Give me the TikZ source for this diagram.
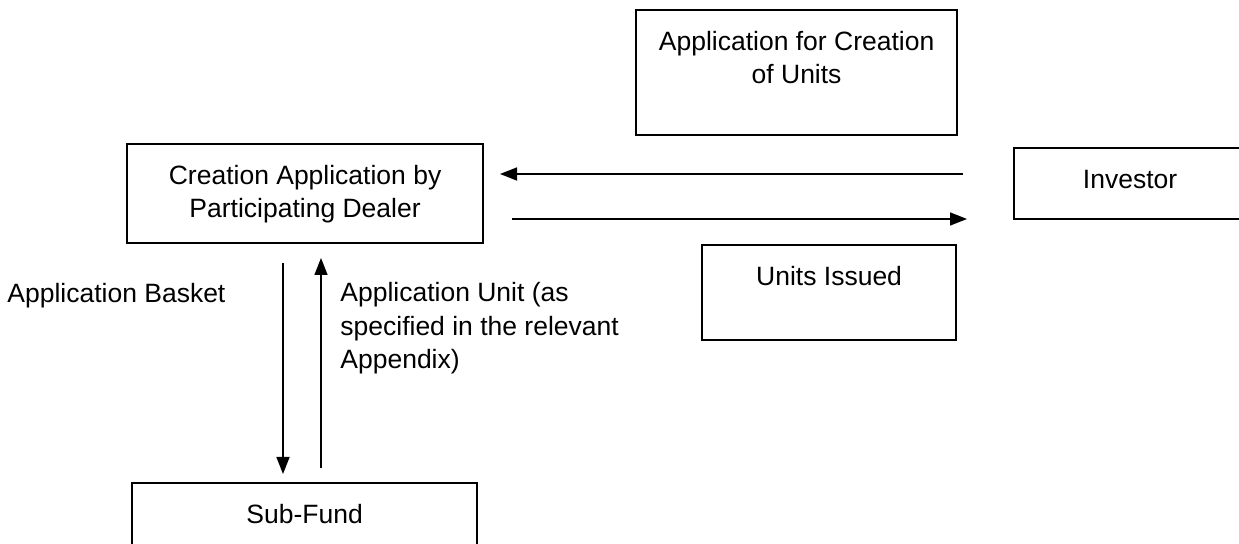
\documentclass[tikz,border=0pt]{standalone}
\usepackage{fontspec}
\setmainfont{Liberation Sans}
\usetikzlibrary{arrows.meta}
\tikzset{
  txt/.style={font=\fontsize{13.25pt}{16.7pt}\selectfont},
  box/.style={txt, draw, line width=1.1pt, inner sep=0pt, align=center,
              text height=20pt, anchor=north west},
  box2/.style={box, text height=36.7pt},
  lbl/.style={txt, inner sep=0pt, align=left, anchor=base west},
  arr/.style={line width=0.8pt, -{Triangle[length=8.5pt,width=6.5pt]}}
}
\begin{document}
\begin{tikzpicture}[x=0.5pt,y=-0.5pt]
\useasboundingbox (0,0) rectangle (1239,544);
\clip (0,0) rectangle (1239,544);
% boxes
\node[box2, minimum width=160.5pt, text depth=25.8pt] (app) at (635,9)
  {Application for Creation\\of Units};
\node[box2, minimum width=178pt, text depth=12.8pt] (cad) at (126,143)
  {Creation Application by\\Participating Dealer};
\node[box, minimum width=116pt, text depth=15.5pt] (inv) at (1013,147)
  {Investor};
\node[box, minimum width=127pt, text depth=27.5pt] (uis) at (701,244)
  {Units Issued};
\node[box, minimum width=172.5pt, text depth=20pt] (sub) at (131,482)
  {Sub-Fund};
% labels
\node[lbl] (basket) at (7,303) {Application Basket};
\node[lbl] (unit) at (340,368.8) {Application Unit (as\\specified in the relevant\\Appendix)};
% connector end points
\coordinate (lA) at (963,174);
\coordinate (lB) at (500,174);
\coordinate (rA) at (512,219);
\coordinate (rB) at (967,219);
\coordinate (dA) at (283,263);
\coordinate (dB) at (283,474);
\coordinate (uA) at (321,468);
\coordinate (uB) at (321,258);
% connectors
\draw[arr] (lA) -- (lB);
\draw[arr] (rA) -- (rB);
\draw[arr] (dA) -- (dB);
\draw[arr] (uA) -- (uB);
\end{tikzpicture}
\end{document}
